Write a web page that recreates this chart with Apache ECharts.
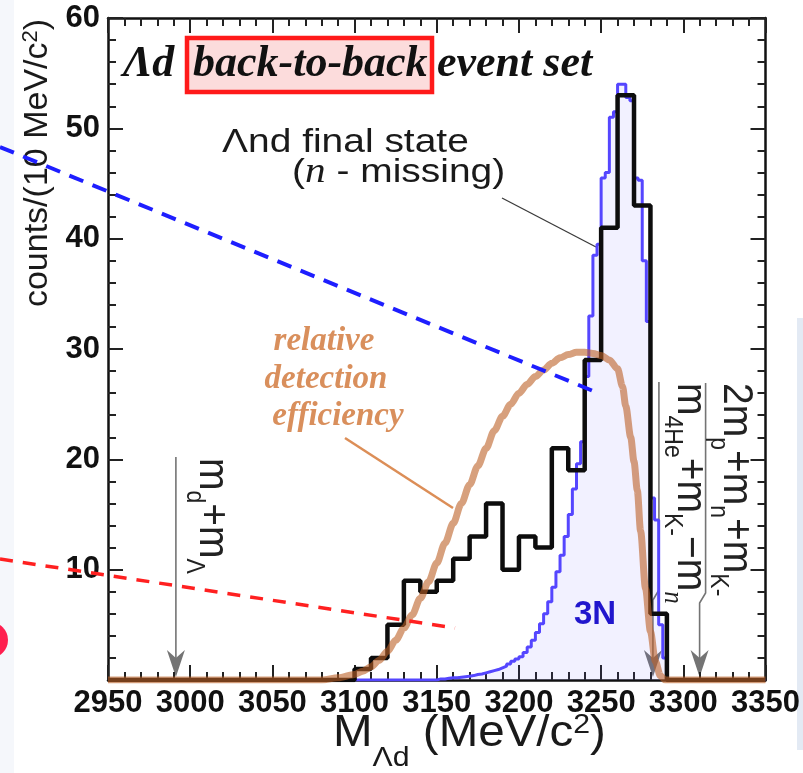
<!DOCTYPE html>
<html>
<head>
<meta charset="utf-8">
<script src="https://cdn.jsdelivr.net/npm/echarts@6/dist/echarts.min.js"></script>
<style>
  html, body { margin: 0; padding: 0; background: #ffffff; }
  #chart { width: 803px; height: 773px; }
</style>
</head>
<body>
<div id="chart"></div>
<script>
// Λd invariant-mass spectrum for the back-to-back event set:
// measured Λnd histogram, 3N simulation and relative detection efficiency.

const massMin = 2950;
const massMax = 3350;
const massStep = 50;
const countMax = 60;
const countStep = 10;

// measured histogram, 10 MeV/c² bins (lower bin edges)
const dataEdges  = [3100, 3110, 3120, 3130, 3140, 3150, 3160, 3170, 3180, 3190,
                    3200, 3210, 3220, 3230, 3240, 3250, 3260, 3270, 3280];
const dataCounts = [1, 2, 5, 9, 8, 9, 11, 13, 16, 10,
                    13, 12, 21, 19, 29, 41, 53, 43, 6];
const dataBinWidth = 10;

// 3N simulation, 2.5 MeV/c² bins (lower bin edges)
const mcEdges  = [3150, 3152.5, 3155, 3157.5, 3160, 3162.5, 3165, 3167.5, 3170, 3172.5,
                  3175, 3177.5, 3180, 3182.5, 3185, 3187.5, 3190, 3192.5, 3195, 3197.5,
                  3200, 3202.5, 3205, 3207.5, 3210, 3212.5, 3215, 3217.5, 3220, 3222.5,
                  3225, 3227.5, 3230, 3232.5, 3235, 3237.5, 3240, 3242.5, 3245, 3247.5,
                  3250, 3252.5, 3255, 3257.5, 3260, 3262.5, 3265, 3267.5, 3270, 3272.5,
                  3275, 3277.5, 3280, 3282.5, 3285, 3287.5];
const mcCounts = [0.1, 0.1, 0.15, 0.2, 0.2, 0.25, 0.3, 0.35, 0.4, 0.5,
                  0.55, 0.65, 0.75, 0.85, 0.95, 1.1, 1.25, 1.45, 1.7, 1.9,
                  2.1, 2.5, 3.0, 3.6, 4.3, 5.1, 6.0, 7.1, 8.4, 9.8,
                  11.3, 13.0, 15.0, 17.3, 19.6, 21.6, 27.5, 33.0, 38.5, 39.5,
                  45.5, 46.0, 51.0, 51.5, 54.0, 54.0, 52.8, 52.5, 45.5, 45.3,
                  38.0, 32.5, 16.5, 14.5, 5.0, 2.0];
const mcBinWidth = 2.5;

// relative detection efficiency, drawn on the count scale
const effMass  = [2950, 3080, 3090, 3100, 3105, 3110, 3115, 3120, 3125, 3130,
                  3135, 3140, 3145, 3150, 3155, 3160, 3165, 3170, 3175, 3180,
                  3185, 3190, 3195, 3200, 3205, 3210, 3215, 3220, 3225, 3230,
                  3235, 3240, 3245, 3250, 3255, 3260, 3263, 3265, 3268, 3270,
                  3272, 3274, 3277, 3280, 3283, 3286, 3289, 3350];
const effValue = [0, 0, 0.2, 0.5, 0.8, 1.2, 1.8, 2.6, 3.6, 4.7,
                  5.9, 7.4, 8.9, 10.6, 12.4, 14.2, 16.0, 17.7, 19.4, 21.0,
                  22.6, 23.9, 25.0, 26.0, 26.8, 27.5, 28.1, 28.7, 29.2, 29.5,
                  29.7, 29.7, 29.6, 29.4, 29.0, 28.2, 26.6, 24.8, 22.0, 19.8,
                  17.2, 13.5, 8.3, 4.4, 1.7, 0.4, 0, 0];

// kinematic thresholds (MeV/c²)
const thresholdLd  = 2991.3;   // m_d + m_Λ
const thresholdHe4 = 3281.5;   // m_4He + m_K- − m_n
const thresholdPpn = 3309.9;   // 2m_p + m_n + m_K-

const SANS = '"Liberation Sans", Arial, sans-serif';
const SERIF = '"Liberation Serif", "Times New Roman", serif';

// histogram -> step polyline points spanning the whole axis
function histogramPoints(edges, counts, width) {
  const pts = [[massMin, 0]];
  for (let i = 0; i < edges.length; i++) pts.push([edges[i], counts[i]]);
  pts.push([edges[edges.length - 1] + width, 0]);
  pts.push([massMax, 0]);
  return pts;
}

const dataPoints = histogramPoints(dataEdges, dataCounts, dataBinWidth);
const mcPoints = histogramPoints(mcEdges, mcCounts, mcBinWidth);
const effPoints = effMass.map((m, i) => [m, effValue[i]]);

function frameAxis(pos, isX, withLabels) {
  return {
    type: 'value',
    position: pos,
    min: isX ? massMin : 0,
    max: isX ? massMax : countMax,
    interval: isX ? massStep : countStep,
    axisLine: { show: true, onZero: false, lineStyle: { color: '#111', width: 2.5 } },
    axisTick: { show: true, inside: true, length: 15, lineStyle: { color: '#222', width: 2 } },
    minorTick: { show: true, splitNumber: 5, length: 8, lineStyle: { color: '#222', width: 2 } },
    splitLine: { show: false },
    axisLabel: {
      show: withLabels,
      fontFamily: SANS,
      fontWeight: 'bold',
      fontSize: 31,
      color: '#111',
      margin: 8,
      showMinLabel: isX,
      formatter: (v) => String(v)
    }
  };
}

const option = {
  animation: false,
  backgroundColor: '#ffffff',
  grid: { left: 108, right: 36, top: 18, bottom: 93, containLabel: false },
  xAxis: [frameAxis('bottom', true, true), frameAxis('top', true, false)],
  yAxis: [frameAxis('left', false, true), frameAxis('right', false, false)],
  series: [
    {
      name: '3N',
      type: 'line',
      step: 'end',
      data: mcPoints,
      symbol: 'none',
      z: 2,
      lineStyle: { color: '#5546ff', width: 3 },
      areaStyle: { color: 'rgba(110, 100, 255, 0.13)' }
    },
    {
      name: 'Λnd',
      type: 'line',
      step: 'end',
      data: dataPoints,
      symbol: 'none',
      z: 3,
      lineStyle: { color: '#0d0d0d', width: 4.5 }
    },
    {
      // translucent so that crossings with the histograms darken
      name: 'efficiency',
      type: 'line',
      data: effPoints,
      smooth: 0.3,
      smoothMonotone: 'x',
      symbol: 'none',
      z: 4,
      lineStyle: { color: 'rgb(188, 96, 38)', width: 7, opacity: 0.6 }
    }
  ]
};

const chart = echarts.init(document.getElementById('chart'), null, { renderer: 'canvas' });
chart.setOption(option);

function px(mass, count) {
  return chart.convertToPixel({ xAxisIndex: 0, yAxisIndex: 0 }, [mass, count]);
}

function arrowHead(tipX, tipY, color) {
  return {
    type: 'polygon',
    shape: { points: [[tipX, tipY], [tipX - 9, tipY - 27], [tipX, tipY - 19], [tipX + 9, tipY - 27]] },
    style: { fill: color }
  };
}

function textEl(x, y, text, opts) {
  return Object.assign({
    type: 'text', x: x, y: y,
    style: Object.assign({
      text: text, align: 'left', verticalAlign: 'middle',
      textAlign: 'left', textVerticalAlign: 'middle', fill: '#111'
    }, opts.style || {})
  }, opts.el || {});
}

const GRAY = '#747474';
const base = px(massMin, 0)[1];
const xLd = px(thresholdLd, 0)[0];
const xHe = px(thresholdHe4, 0)[0];
const xPp = px(thresholdPpn, 0)[0];

// rich styles for rotated threshold labels
const subPad = 32;
const thrRich = {
  m: { fontFamily: SANS, fontSize: 39, lineHeight: 39, verticalAlign: 'middle', fill: '#222' },
  s: { fontFamily: SANS, fontSize: 23, lineHeight: 23, padding: [subPad, 0, 0, 0], verticalAlign: 'middle', fill: '#222' },
  si: { fontFamily: SERIF, fontStyle: 'italic', fontSize: 25, lineHeight: 25, padding: [subPad, 0, 0, 0], verticalAlign: 'middle', fill: '#222' }
};

const graphics = [
  // page edges
  { type: 'rect', shape: { x: 0, y: 0, width: 14, height: 773 }, style: { fill: '#f5f7fb' }, z: -10 },
  { type: 'rect', shape: { x: 797, y: 318, width: 6, height: 432 }, style: { fill: '#e3eaf4' }, z: -10 },

  // title
  { type: 'rect', shape: { x: 187, y: 38, width: 245, height: 54 },
    style: { fill: '#fcdcdc', stroke: '#ff1a1a', lineWidth: 4.5 } },
  textEl(123, 65, 'Λd', { style: { font: 'italic bold 44px ' + SERIF } }),
  textEl(193, 65, 'back-to-back', { style: { font: 'italic bold 44px ' + SERIF } }),
  textEl(437, 65, 'event set', { style: { font: 'italic bold 44px ' + SERIF } }),

  // final-state label and leader line
  textEl(222, 143, 'Λnd final state', { style: { font: '33px ' + SANS, fill: '#1a1a1a' }, el: { scaleX: 1.18 } }),
  textEl(292, 173, '{p|(}{i|n}{p| - missing)}', {
    style: {
      fill: '#1a1a1a',
      rich: {
        p: { fontFamily: SANS, fontSize: 33, fill: '#1a1a1a' },
        i: { fontFamily: SERIF, fontStyle: 'italic', fontSize: 35, fill: '#1a1a1a' }
      }
    },
    el: { scaleX: 1.18 }
  }),
  { type: 'line', shape: { x1: 502, y1: 198, x2: 596, y2: 247 }, style: { stroke: '#3a3a3a', lineWidth: 1.3 } },

  // efficiency label and leader line
  textEl(324, 341, 'relative', { style: { font: 'italic bold 33px ' + SERIF, fill: '#d98f5c', align: 'center', textAlign: 'center' } }),
  textEl(326, 379, 'detection', { style: { font: 'italic bold 33px ' + SERIF, fill: '#d98f5c', align: 'center', textAlign: 'center' } }),
  textEl(338, 416, 'efficiency', { style: { font: 'italic bold 33px ' + SERIF, fill: '#d98f5c', align: 'center', textAlign: 'center' } }),
  { type: 'line', shape: { x1: 345, y1: 438, x2: 453, y2: 508 }, style: { stroke: '#dc8e57', lineWidth: 2.5 } },

  // 3N label
  textEl(595, 615, '3N', { style: { font: 'bold 33px ' + SANS, fill: '#1a0fc8', align: 'center', textAlign: 'center' } }),

  // overlay dashed guide lines and marker
  { type: 'line', shape: { x1: 0, y1: 147, x2: 598, y2: 393 },
    style: { stroke: '#1e1eff', lineWidth: 4, lineDash: [15, 10] }, z: 50 },
  { type: 'line', shape: { x1: 0, y1: 559, x2: 455, y2: 628 },
    style: { stroke: '#ff2020', lineWidth: 3.5, lineDash: [13, 10] }, z: 50 },
  { type: 'circle', shape: { cx: -10, cy: 640, r: 18 }, style: { fill: '#ff1f4f' } },

  // threshold m_d + m_Λ
  { type: 'polyline', shape: { points: [[xLd, 457], [xLd, base - 6]] }, style: { stroke: GRAY, lineWidth: 1.6, fill: null } },
  arrowHead(xLd, base - 3, GRAY),
  textEl(212, 458, '{m|m}{s|d}{m|+m}{s|Λ}', { style: { rich: thrRich }, el: { rotation: -Math.PI / 2, scaleY: 1.1 } }),

  // threshold m_4He + m_K- − m_n
  { type: 'polyline', shape: { points: [[xHe + 6, 382], [xHe + 6, 590], [xHe, 600], [xHe, base - 6]] }, style: { stroke: GRAY, lineWidth: 1.6, fill: null } },
  arrowHead(xHe, base - 3, GRAY),
  textEl(690, 383, '{m|m}{s|4He}{m|+m}{s|K-}{m|−m}{si|n}', { style: { rich: thrRich }, el: { rotation: -Math.PI / 2, scaleY: 1.1 } }),

  // threshold 2m_p + m_n + m_K-
  { type: 'polyline', shape: { points: [[xPp + 6, 383], [xPp + 6, 593], [xPp, 603], [xPp, base - 6]] }, style: { stroke: GRAY, lineWidth: 1.6, fill: null } },
  arrowHead(xPp, base - 3, GRAY),
  textEl(736, 383, '{m|2m}{s|p}{m|+m}{s|n}{m|+m}{s|K-}', { style: { rich: thrRich }, el: { rotation: -Math.PI / 2, scaleY: 1.1 } }),

  // axis titles
  textEl(38, 163, '{m|counts/(10 MeV/c}{p|2}{m|)}', {
    style: {
      align: 'center', textAlign: 'center',
      rich: {
        m: { fontFamily: SANS, fontSize: 34, lineHeight: 34, verticalAlign: 'middle', fill: '#1a1a1a' },
        p: { fontFamily: SANS, fontSize: 22, lineHeight: 22, padding: [0, 0, 14, 0], verticalAlign: 'middle', fill: '#1a1a1a' }
      }
    },
    el: { rotation: Math.PI / 2 }
  }),
  textEl(333, 734, '{m|M}{s|Λd}{m| (MeV/c}{p|2}{m|)}', {
    style: {
      rich: {
        m: { fontFamily: SANS, fontSize: 44, lineHeight: 44, verticalAlign: 'middle', fill: '#1a1a1a' },
        s: { fontFamily: SANS, fontSize: 28, lineHeight: 28, padding: [48, 0, 0, 0], verticalAlign: 'middle', fill: '#1a1a1a' },
        p: { fontFamily: SANS, fontSize: 28, lineHeight: 28, padding: [0, 0, 18, 0], verticalAlign: 'middle', fill: '#1a1a1a' }
      }
    },
    el: { scaleX: 1.08 }
  })
];

chart.setOption({ graphic: { elements: graphics } });
</script>
</body>
</html>
